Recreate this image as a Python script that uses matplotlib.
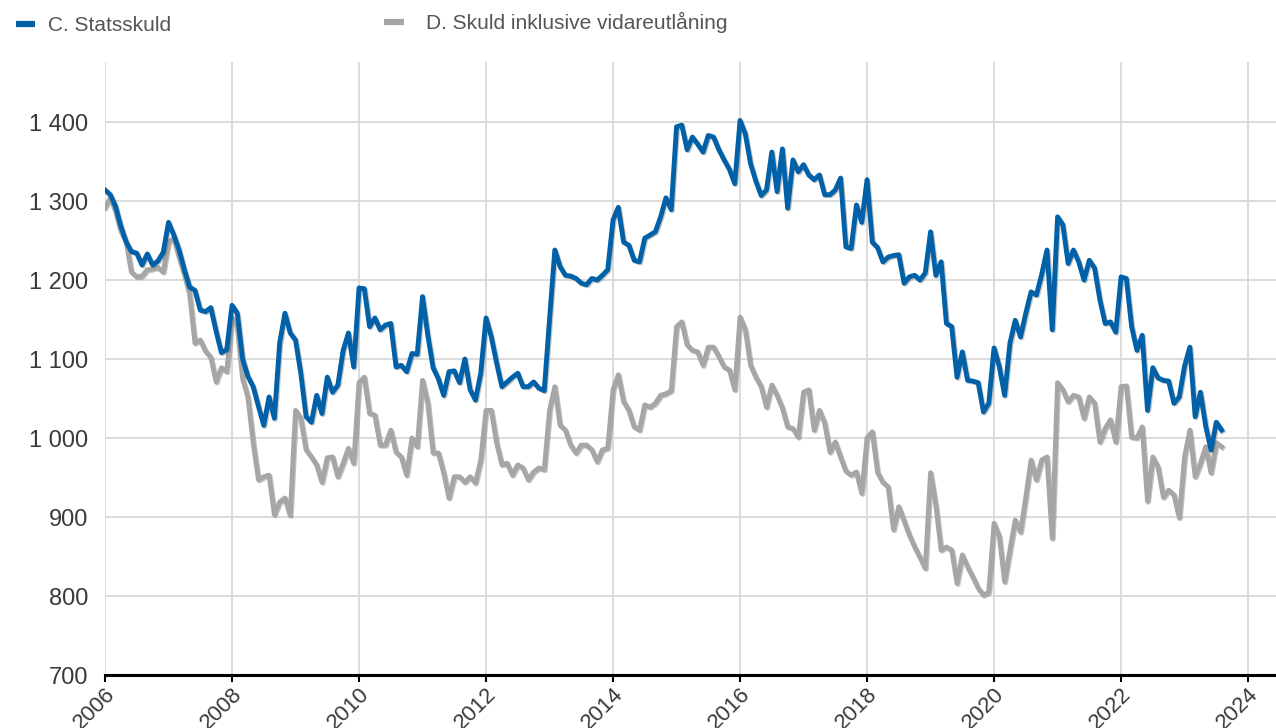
import numpy as np
import matplotlib
matplotlib.use("Agg")
import matplotlib.pyplot as plt
import matplotlib.patheffects as pe
from matplotlib.lines import Line2D
from matplotlib.ticker import FuncFormatter

plt.rcParams['font.family'] = ['Liberation Sans', 'DejaVu Sans']

# monthly values, Jan 2006 - Aug 2023
statsskuld = [
    1314, 1308, 1293, 1268, 1248, 1236, 1234, 1219, 1233, 1219, 1224, 1235,  # 2006
    1273, 1257, 1238, 1213, 1191, 1187, 1162, 1160, 1165, 1135, 1108, 1112,  # 2007
    1168, 1158, 1100, 1078, 1065, 1040, 1016, 1052, 1025, 1120, 1158, 1133,  # 2008
    1124, 1082, 1027, 1020, 1054, 1031, 1077, 1058, 1067, 1111, 1133, 1090,  # 2009
    1190, 1189, 1141, 1152, 1137, 1143, 1145, 1090, 1092, 1084, 1107, 1106,  # 2010
    1179, 1130, 1089, 1075, 1054, 1084, 1085, 1070, 1100, 1061, 1048, 1082,  # 2011
    1152, 1128, 1095, 1065, 1071, 1077, 1082, 1065, 1065, 1071, 1063, 1060,  # 2012
    1150, 1238, 1217, 1206, 1205, 1202, 1196, 1194, 1202, 1200, 1206, 1213,  # 2013
    1276, 1292, 1248, 1244, 1225, 1223, 1253, 1257, 1261, 1280, 1304, 1289,  # 2014
    1394, 1396, 1365, 1381, 1372, 1362, 1383, 1381, 1365, 1352, 1340, 1322,  # 2015
    1402, 1385, 1347, 1325, 1307, 1314, 1362, 1312, 1366, 1291, 1352, 1337,  # 2016
    1346, 1333, 1327, 1333, 1308, 1308, 1314, 1329, 1242, 1240, 1295, 1273,  # 2017
    1327, 1248, 1241, 1223, 1229, 1231, 1232, 1196, 1204, 1206, 1200, 1209,  # 2018
    1261, 1206, 1223, 1145, 1141, 1077, 1109, 1073, 1072, 1070, 1033, 1044,  # 2019
    1114, 1090, 1054, 1120, 1149, 1128, 1158, 1185, 1181, 1207, 1238, 1137,  # 2020
    1280, 1270, 1221, 1238, 1223, 1200, 1225, 1215, 1175, 1145, 1147, 1134,  # 2021
    1204, 1202, 1141, 1111, 1130, 1035, 1089, 1076, 1073, 1072, 1044, 1052,  # 2022
    1091, 1115, 1027, 1058, 1015, 985, 1020, 1010,                           # 2023
]

skuld_inkl = [
    1292, 1304, 1287, 1262, 1248, 1210, 1204, 1205, 1213, 1214, 1216, 1210,  # 2006
    1248, 1253, 1229, 1207, 1182, 1120, 1124, 1110, 1102, 1071, 1089, 1084,  # 2007
    1152, 1142, 1075, 1052, 994, 947, 951, 953, 903, 919, 924, 902,          # 2008
    1035, 1025, 985, 976, 966, 944, 975, 976, 951, 968, 987, 968,            # 2009
    1070, 1077, 1031, 1029, 991, 991, 1010, 982, 976, 953, 1000, 989,        # 2010
    1073, 1044, 981, 981, 956, 924, 951, 951, 944, 951, 943, 972,            # 2011
    1035, 1035, 994, 966, 968, 953, 966, 962, 947, 957, 962, 960,            # 2012
    1035, 1065, 1016, 1010, 991, 981, 991, 991, 985, 970, 985, 987,          # 2013
    1061, 1080, 1046, 1035, 1014, 1010, 1042, 1039, 1044, 1054, 1056, 1060,  # 2014
    1141, 1147, 1118, 1111, 1109, 1092, 1115, 1115, 1103, 1090, 1086, 1061,  # 2015
    1153, 1137, 1092, 1077, 1065, 1039, 1067, 1054, 1038, 1014, 1012, 1001,  # 2016
    1058, 1061, 1010, 1035, 1019, 982, 995, 976, 958, 953, 957, 930,         # 2017
    1000, 1008, 956, 944, 938, 884, 913, 895, 877, 862, 849, 835,            # 2018
    956, 915, 858, 862, 858, 816, 852, 837, 824, 810, 801, 805,              # 2019
    892, 875, 818, 858, 896, 881, 925, 972, 947, 972, 976, 873,              # 2020
    1070, 1061, 1046, 1054, 1052, 1025, 1052, 1044, 995, 1012, 1023, 995,    # 2021
    1065, 1066, 1001, 1000, 1014, 920, 976, 963, 925, 934, 928, 899,         # 2022
    976, 1010, 951, 968, 989, 956, 994, 989,                                 # 2023
]

labels = ['C. Statsskuld', 'D. Skuld inklusive vidareutlåning']
year_ticks = list(range(2006, 2025, 2))
y_ticks = [700, 800, 900, 1000, 1100, 1200, 1300, 1400]

BLUE = '#0061A8'
GREY = '#A6A6A6'
TXT = '#3A3A3A'

x = 2006 + np.arange(len(statsskuld)) / 12.0

W, H = 1276, 728
fig = plt.figure(figsize=(W / 100, H / 100), dpi=100)
ax = fig.add_axes([105 / W, 1 - 675 / H, 1 - 105 / W, (675 - 62) / H])

shadow = [pe.SimpleLineShadow(offset=(0.8, -0.8), shadow_color='#555555', alpha=0.35), pe.Normal()]
ax.plot(x, skuld_inkl, color=GREY, lw=3.5, solid_joinstyle='round', path_effects=shadow, zorder=3)
ax.plot(x, statsskuld, color=BLUE, lw=3.5, solid_joinstyle='round', path_effects=shadow, zorder=4)

ax.set_xlim(2006, 2024.44)
ax.set_ylim(700, 1476)
ax.set_xticks(year_ticks)
ax.set_xticklabels([str(y) for y in year_ticks], rotation=45, ha='right', va='top',
                   rotation_mode='anchor', fontsize=16, color=TXT)
ax.set_yticks(y_ticks)
ax.yaxis.set_major_formatter(FuncFormatter(lambda v, p: f"{v:,.0f}".replace(",", " ")))
ax.tick_params(axis='y', length=0, pad=12, labelsize=17, labelcolor=TXT)
ax.tick_params(axis='x', length=5, width=1.5, color='black', pad=1)

ax.grid(True, color='#D9D9D9', lw=1.3)
ax.set_axisbelow(True)
for s in ['top', 'right', 'left']:
    ax.spines[s].set_visible(False)
ax.spines['bottom'].set_linewidth(2.2)
ax.spines['bottom'].set_color('black')

# two legend entries placed separately, as in the reference
legend_pos = [(0.0, 0.999), (0.289, 1.0045)]
legend_pad = [0.6, 1.05]
for col, lab, pos, tp in zip([BLUE, GREY], labels, legend_pos, legend_pad):
    h = Line2D([], [], color=col, lw=4.5, solid_capstyle='butt')
    leg = fig.legend([h], [lab], loc='upper left', bbox_to_anchor=pos, frameon=False,
                     fontsize=15, handlelength=0.95, handletextpad=tp, borderaxespad=0.35)
    leg.get_texts()[0].set_color('#555555')

fig.savefig('out.png', dpi=100)
